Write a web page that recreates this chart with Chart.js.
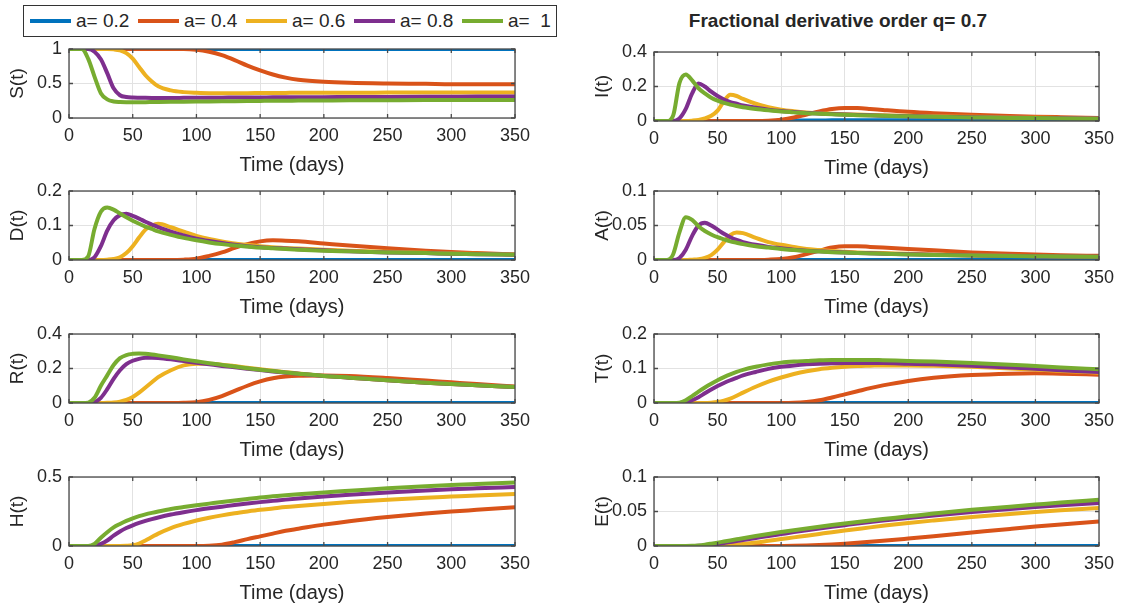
<!DOCTYPE html>
<html lang="en">
<head>
<meta charset="UTF-8">
<title>Fractional derivative order q= 0.7</title>
<script src="https://cdn.jsdelivr.net/npm/chart.js"></script>
<style>
    body { margin: 0; background: #fff; width: 1121px; height: 608px; position: relative; overflow: hidden;
           font-family: "Liberation Sans", Arial, sans-serif; color: #262626; }
    .legenda { position: absolute; left: 23px; top: 5px; width: 534px; height: 32px; box-sizing: border-box;
               border: 1px solid #333; }
    .item { position: absolute; top: 0; height: 30px; display: flex; align-items: center; font-size: 19px; white-space: pre; }
    .item .linha { display: inline-block; width: 41px; height: 4px; margin-right: 5px; }
    .titulo { position: absolute; left: 638px; width: 400px; top: 10px; text-align: center; font-weight: bold; font-size: 19px; }
    .painel { position: absolute; }
</style>
</head>
<body>
<div class="legenda" id="legenda"></div>
<div class="titulo">Fractional derivative order q= 0.7</div>

<script>
    // time axis shared by every subplot
    const days = [0, 10, 15, 20, 25, 30, 35, 40, 45, 50, 55, 60, 65, 70, 80, 90, 100, 110, 120, 130,
                  140, 150, 160, 170, 180, 200, 220, 250, 280, 300, 320, 350];
    const xTicks = [0, 50, 100, 150, 200, 250, 300, 350];
    const labels = ['a= 0.2', 'a= 0.4', 'a= 0.6', 'a= 0.8', 'a=  1'];
    const colors = ['#0072BD', '#D95319', '#EDB120', '#7E2F8E', '#77AC30'];

    // S(t)
    const S_02 = [1,1,1,1,1,1,1,1,1,1, 1,1,1,1,1,1,1,1,1,1, 1,1,1,1,1,1,1,1,1,1, 1,1];
    const S_04 = [1,1,1,1,1,1,1,1,1,1, 1,1,1,1,1,1,0.99,0.96,0.91,0.84, 0.76,0.69,0.63,0.585,0.555,0.525,0.51,0.5,0.495,0.49, 0.49,0.49];
    const S_06 = [1,1,1,1,1,1,0.995,0.98,0.94,0.86, 0.74,0.62,0.53,0.46,0.4,0.375,0.365,0.36,0.36,0.36, 0.36,0.362,0.363,0.364,0.365,0.366,0.367,0.368,0.369,0.37, 0.37,0.37];
    const S_08 = [1,1,1,0.96,0.85,0.65,0.43,0.33,0.305,0.297, 0.294,0.292,0.291,0.291,0.291,0.292,0.293,0.294,0.295,0.296, 0.297,0.298,0.299,0.3,0.301,0.302,0.304,0.306,0.308,0.309, 0.31,0.31];
    const S_10 = [1,1,0.86,0.6,0.36,0.27,0.24,0.232,0.23,0.23, 0.23,0.23,0.231,0.232,0.234,0.236,0.238,0.24,0.242,0.244, 0.246,0.248,0.25,0.251,0.252,0.254,0.256,0.258,0.26,0.26, 0.261,0.262];

    // I(t)
    const I_02 = [0,0,0,0,0,0,0,0,0,0, 0,0,0,0,0,0,0.001,0.002,0.003,0.003, 0.004,0.004,0.004,0.004,0.004,0.004,0.004,0.004,0.003,0.003, 0.003,0.003];
    const I_04 = [0,0,0,0,0,0,0,0,0,0, 0,0,0,0,0,0.002,0.008,0.02,0.038,0.056, 0.07,0.076,0.075,0.07,0.064,0.053,0.045,0.036,0.029,0.025, 0.022,0.018];
    const I_06 = [0,0,0,0,0,0.002,0.006,0.015,0.03,0.06, 0.115,0.152,0.145,0.128,0.1,0.08,0.066,0.057,0.05,0.045, 0.042,0.039,0.037,0.035,0.033,0.03,0.027,0.024,0.021,0.019, 0.017,0.015];
    const I_08 = [0,0,0,0.015,0.07,0.16,0.218,0.2,0.17,0.145, 0.125,0.11,0.1,0.09,0.077,0.066,0.058,0.052,0.047,0.043, 0.04,0.037,0.035,0.033,0.031,0.028,0.025,0.022,0.019,0.017, 0.016,0.014];
    const I_10 = [0,0,0.03,0.22,0.27,0.235,0.19,0.16,0.135,0.118, 0.105,0.095,0.087,0.08,0.07,0.062,0.055,0.05,0.045,0.042, 0.039,0.036,0.034,0.032,0.03,0.027,0.024,0.021,0.018,0.017, 0.015,0.013];

    // D(t)
    const D_02 = [0,0,0,0,0,0,0,0,0,0, 0,0,0,0,0,0,0,0,0,0, 0,0,0,0,0,0,0,0,0,0, 0,0];
    const D_04 = [0,0,0,0,0,0,0,0,0,0, 0,0,0,0,0,0.001,0.004,0.012,0.022,0.035, 0.046,0.054,0.057,0.056,0.054,0.048,0.042,0.034,0.027,0.023, 0.02,0.016];
    const D_06 = [0,0,0,0,0,0.001,0.003,0.008,0.02,0.04, 0.065,0.088,0.1,0.105,0.095,0.082,0.07,0.061,0.054,0.048, 0.044,0.04,0.037,0.035,0.033,0.03,0.027,0.024,0.021,0.019, 0.018,0.016];
    const D_08 = [0,0,0,0.008,0.04,0.085,0.115,0.13,0.134,0.128, 0.12,0.111,0.103,0.095,0.082,0.071,0.062,0.055,0.049,0.044, 0.04,0.037,0.035,0.033,0.031,0.028,0.025,0.022,0.02,0.018, 0.017,0.015];
    const D_10 = [0,0,0.01,0.09,0.14,0.152,0.146,0.135,0.124,0.114, 0.105,0.097,0.09,0.083,0.073,0.064,0.057,0.051,0.046,0.042, 0.039,0.036,0.034,0.032,0.03,0.027,0.025,0.022,0.02,0.018, 0.017,0.015];

    // A(t)
    const A_02 = [0,0,0,0,0,0,0,0,0,0, 0,0,0,0,0,0,0,0,0,0, 0,0,0,0,0,0,0,0,0,0, 0,0];
    const A_04 = [0,0,0,0,0,0,0,0,0,0, 0,0,0,0,0,0.0005,0.0015,0.004,0.0085,0.0135, 0.018,0.02,0.02,0.019,0.018,0.016,0.014,0.011,0.009,0.008, 0.007,0.006];
    const A_06 = [0,0,0,0,0,0.0005,0.001,0.003,0.007,0.015, 0.026,0.036,0.04,0.039,0.032,0.026,0.022,0.019,0.016,0.0145, 0.013,0.012,0.011,0.0105,0.01,0.009,0.008,0.007,0.006,0.0055, 0.005,0.0045];
    const A_08 = [0,0,0,0.003,0.015,0.035,0.05,0.054,0.05,0.044, 0.038,0.033,0.029,0.026,0.022,0.019,0.017,0.015,0.0135,0.0125, 0.0115,0.011,0.0103,0.0097,0.0092,0.0083,0.0076,0.0067,0.006,0.0055, 0.0051,0.0046];
    const A_10 = [0,0,0.008,0.04,0.062,0.058,0.049,0.042,0.037,0.033, 0.03,0.027,0.025,0.023,0.02,0.018,0.016,0.0145,0.0132,0.0122, 0.0114,0.0107,0.01,0.0095,0.009,0.0081,0.0074,0.0066,0.0059,0.0055, 0.0051,0.0046];

    // R(t)
    const R_02 = [0,0,0,0,0,0,0,0,0,0, 0,0,0,0,0,0,0,0,0,0, 0,0,0,0,0,0,0,0,0,0, 0,0];
    const R_04 = [0,0,0,0,0,0,0,0,0,0, 0,0,0,0,0,0.001,0.005,0.018,0.04,0.07, 0.1,0.125,0.143,0.153,0.158,0.16,0.157,0.145,0.13,0.12, 0.11,0.096];
    const R_06 = [0,0,0,0,0,0.001,0.003,0.008,0.018,0.035, 0.06,0.09,0.12,0.15,0.19,0.218,0.228,0.227,0.222,0.214, 0.205,0.196,0.187,0.179,0.171,0.157,0.147,0.132,0.118,0.11, 0.103,0.093];
    const R_08 = [0,0,0,0.005,0.03,0.08,0.14,0.19,0.225,0.245, 0.256,0.262,0.263,0.261,0.253,0.243,0.233,0.224,0.215,0.207, 0.199,0.191,0.183,0.176,0.169,0.157,0.147,0.132,0.118,0.11, 0.103,0.093];
    const R_10 = [0,0,0.002,0.03,0.1,0.16,0.22,0.26,0.278,0.285, 0.287,0.285,0.281,0.276,0.265,0.253,0.242,0.231,0.221,0.211, 0.202,0.193,0.185,0.177,0.17,0.157,0.147,0.132,0.118,0.11, 0.103,0.093];

    // T(t)
    const T_02 = [0,0,0,0,0,0,0,0,0,0, 0,0,0,0,0,0,0,0,0,0, 0,0,0,0,0,0,0,0,0,0, 0,0];
    const T_04 = [0,0,0,0,0,0,0,0,0,0, 0,0,0,0,0,0,0,0.0005,0.003,0.008, 0.016,0.025,0.034,0.043,0.051,0.064,0.073,0.081,0.085,0.086, 0.085,0.082];
    const T_06 = [0,0,0,0,0,0,0,0,0.001,0.003, 0.007,0.013,0.021,0.03,0.047,0.062,0.074,0.084,0.092,0.098, 0.102,0.105,0.107,0.108,0.109,0.109,0.108,0.105,0.1,0.097, 0.093,0.088];
    const T_08 = [0,0,0,0,0.002,0.008,0.017,0.028,0.039,0.049, 0.058,0.066,0.073,0.08,0.09,0.099,0.105,0.109,0.112,0.114, 0.115,0.116,0.116,0.116,0.116,0.114,0.112,0.108,0.103,0.099, 0.095,0.09];
    const T_10 = [0,0,0,0.001,0.008,0.02,0.033,0.045,0.056,0.066, 0.075,0.083,0.09,0.096,0.105,0.112,0.117,0.12,0.122,0.124, 0.125,0.125,0.125,0.125,0.124,0.122,0.12,0.116,0.111,0.107, 0.103,0.098];

    // H(t)
    const H_02 = [0,0,0,0,0,0,0,0,0,0, 0,0,0,0,0,0,0,0,0,0, 0,0,0,0,0,0,0,0,0,0, 0,0];
    const H_04 = [0,0,0,0,0,0,0,0,0,0, 0,0,0,0,0,0,0,0.002,0.01,0.028, 0.05,0.07,0.09,0.11,0.125,0.155,0.18,0.21,0.235,0.25, 0.262,0.28];
    const H_06 = [0,0,0,0,0,0,0,0,0.001,0.005, 0.018,0.04,0.065,0.09,0.13,0.16,0.185,0.205,0.222,0.237, 0.25,0.262,0.272,0.282,0.29,0.305,0.318,0.335,0.35,0.358, 0.366,0.376];
    const H_08 = [0,0,0,0.002,0.015,0.04,0.075,0.105,0.13,0.15, 0.167,0.182,0.195,0.207,0.228,0.245,0.26,0.273,0.285,0.297, 0.308,0.318,0.327,0.336,0.344,0.358,0.371,0.388,0.403,0.411, 0.418,0.428];
    const H_10 = [0,0,0,0.015,0.06,0.1,0.135,0.16,0.182,0.2, 0.216,0.229,0.24,0.25,0.268,0.282,0.295,0.307,0.319,0.33, 0.341,0.352,0.36,0.368,0.375,0.388,0.4,0.418,0.433,0.442, 0.45,0.46];

    // E(t)
    const E_02 = [0,0,0,0,0,0,0,0,0,0, 0,0,0,0,0,0,0,0,0,0, 0,0,0,0,0,0,0,0,0,0, 0,0];
    const E_04 = [0,0,0,0,0,0,0,0,0,0, 0,0,0,0,0,0,0,0.0002,0.0006,0.0013, 0.0022,0.0033,0.0046,0.006,0.0075,0.0108,0.0142,0.0195,0.0248,0.0282, 0.0313,0.0355];
    const E_06 = [0,0,0,0,0,0,0,0,0.0001,0.0003, 0.0007,0.0013,0.002,0.0029,0.005,0.0075,0.01,0.0125,0.015,0.0175, 0.02,0.0224,0.0247,0.027,0.0292,0.0334,0.037,0.042,0.0465,0.0493, 0.0518,0.055];
    const E_08 = [0,0,0,0,0,0,0.0003,0.0009,0.0018,0.003, 0.0043,0.0057,0.0071,0.0086,0.0115,0.0145,0.0173,0.0201,0.0228,0.0254, 0.0279,0.0302,0.0325,0.0347,0.0368,0.0407,0.0443,0.0493,0.0537,0.0564, 0.0589,0.0625];
    const E_10 = [0,0,0,0,0,0.0002,0.0009,0.002,0.0034,0.0049, 0.0065,0.0081,0.0097,0.0113,0.0144,0.0174,0.0202,0.0229,0.0255,0.028, 0.0304,0.0327,0.0349,0.037,0.039,0.043,0.047,0.0525,0.057,0.06, 0.063,0.067];

    // subplot geometry (plot area edges in page pixels)
    const AXIS_W = 69, AXIS_H = 59, PAD_TOP = 12, PAD_RIGHT = 20, PLOT_H = 69;
    const panels = [
        { label: 'S(t)', series: [S_02, S_04, S_06, S_08, S_10], max: 1,   step: 0.5,  left: 69,  width: 446, top: 49 },
        { label: 'I(t)', series: [I_02, I_04, I_06, I_08, I_10], max: 0.4, step: 0.2,  left: 654, width: 445, top: 52 },
        { label: 'D(t)', series: [D_02, D_04, D_06, D_08, D_10], max: 0.2, step: 0.1,  left: 69,  width: 446, top: 191 },
        { label: 'A(t)', series: [A_02, A_04, A_06, A_08, A_10], max: 0.1, step: 0.05, left: 654, width: 445, top: 191 },
        { label: 'R(t)', series: [R_02, R_04, R_06, R_08, R_10], max: 0.4, step: 0.2,  left: 69,  width: 446, top: 334 },
        { label: 'T(t)', series: [T_02, T_04, T_06, T_08, T_10], max: 0.2, step: 0.1,  left: 654, width: 445, top: 334 },
        { label: 'H(t)', series: [H_02, H_04, H_06, H_08, H_10], max: 0.5, step: 0.5,  left: 69,  width: 446, top: 477 },
        { label: 'E(t)', series: [E_02, E_04, E_06, E_08, E_10], max: 0.1, step: 0.05, left: 654, width: 445, top: 477 }
    ];

    Chart.defaults.font.family = '"Liberation Sans", Arial, sans-serif';
    Chart.defaults.color = '#262626';

    // box around the axes plus short inward tick marks
    const boxPlugin = {
        id: 'box',
        afterDatasetsDraw(chart) {
            const { ctx, chartArea: a, scales } = chart;
            ctx.save();
            ctx.strokeStyle = '#4a4a4a';
            ctx.lineWidth = 1.3;
            ctx.beginPath();
            scales.x.ticks.forEach(t => {
                const px = scales.x.getPixelForValue(t.value);
                ctx.moveTo(px, a.bottom); ctx.lineTo(px, a.bottom - 4);
                ctx.moveTo(px, a.top); ctx.lineTo(px, a.top + 4);
            });
            scales.y.ticks.forEach(t => {
                const py = scales.y.getPixelForValue(t.value);
                ctx.moveTo(a.left, py); ctx.lineTo(a.left + 4, py);
                ctx.moveTo(a.right, py); ctx.lineTo(a.right - 4, py);
            });
            ctx.stroke();
            ctx.strokeRect(a.left, a.top, a.right - a.left, a.bottom - a.top);
            ctx.restore();
        }
    };

    function drawPanel(p) {
        const div = document.createElement('div');
        div.className = 'painel';
        const w = AXIS_W + p.width + PAD_RIGHT;
        const h = PAD_TOP + PLOT_H + AXIS_H;
        div.style.left = (p.left - AXIS_W) + 'px';
        div.style.top = (p.top - PAD_TOP) + 'px';
        const canvas = document.createElement('canvas');
        canvas.width = w;
        canvas.height = h;
        div.appendChild(canvas);
        document.body.appendChild(div);

        const datasets = p.series.map((vals, i) => ({
            label: labels[i],
            data: days.map((d, k) => ({ x: d, y: vals[k] })),
            borderColor: colors[i],
            backgroundColor: colors[i],
            order: 4 - i
        }));

        new Chart(canvas, {
            type: 'line',
            data: { datasets: datasets },
            options: {
                responsive: false,
                animation: false,
                layout: { padding: { top: PAD_TOP, right: PAD_RIGHT, left: 0, bottom: 0 } },
                plugins: { legend: { display: false }, tooltip: { enabled: false } },
                elements: {
                    point: { radius: 0 },
                    line: { borderWidth: 4, cubicInterpolationMode: 'monotone' }
                },
                scales: {
                    x: {
                        type: 'linear', min: 0, max: 350,
                        afterBuildTicks: s => { s.ticks = xTicks.map(v => ({ value: v })); },
                        ticks: { font: { size: 18 }, padding: 7, maxRotation: 0, autoSkip: false },
                        grid: { color: '#e2e2e2', drawTicks: false },
                        border: { display: false },
                        title: { display: true, text: 'Time (days)', font: { size: 20 }, padding: { top: 0, bottom: 0 } },
                        afterFit: s => { s.height = AXIS_H; s.paddingLeft = 0; s.paddingRight = 0; }
                    },
                    y: {
                        min: 0, max: p.max,
                        ticks: {
                            stepSize: p.step, font: { size: 18 }, padding: 7,
                            callback: v => String(Math.round(v * 1000) / 1000)
                        },
                        grid: { color: '#e2e2e2', drawTicks: false },
                        border: { display: false },
                        title: { display: true, text: p.label, font: { size: 19 }, padding: { top: 6, bottom: 0 } },
                        afterFit: s => { s.width = AXIS_W; s.paddingTop = 0; s.paddingBottom = 0; }
                    }
                }
            },
            plugins: [boxPlugin]
        });
    }

    // legend row shared by all subplots
    const legenda = document.getElementById('legenda');
    labels.forEach((txt, i) => {
        const item = document.createElement('div');
        item.className = 'item';
        item.style.left = (6 + i * 108) + 'px';
        item.innerHTML = `<span class="linha" style="background:${colors[i]}"></span>${txt}`;
        legenda.appendChild(item);
    });

    panels.forEach(drawPanel);
</script>
</body>
</html>
